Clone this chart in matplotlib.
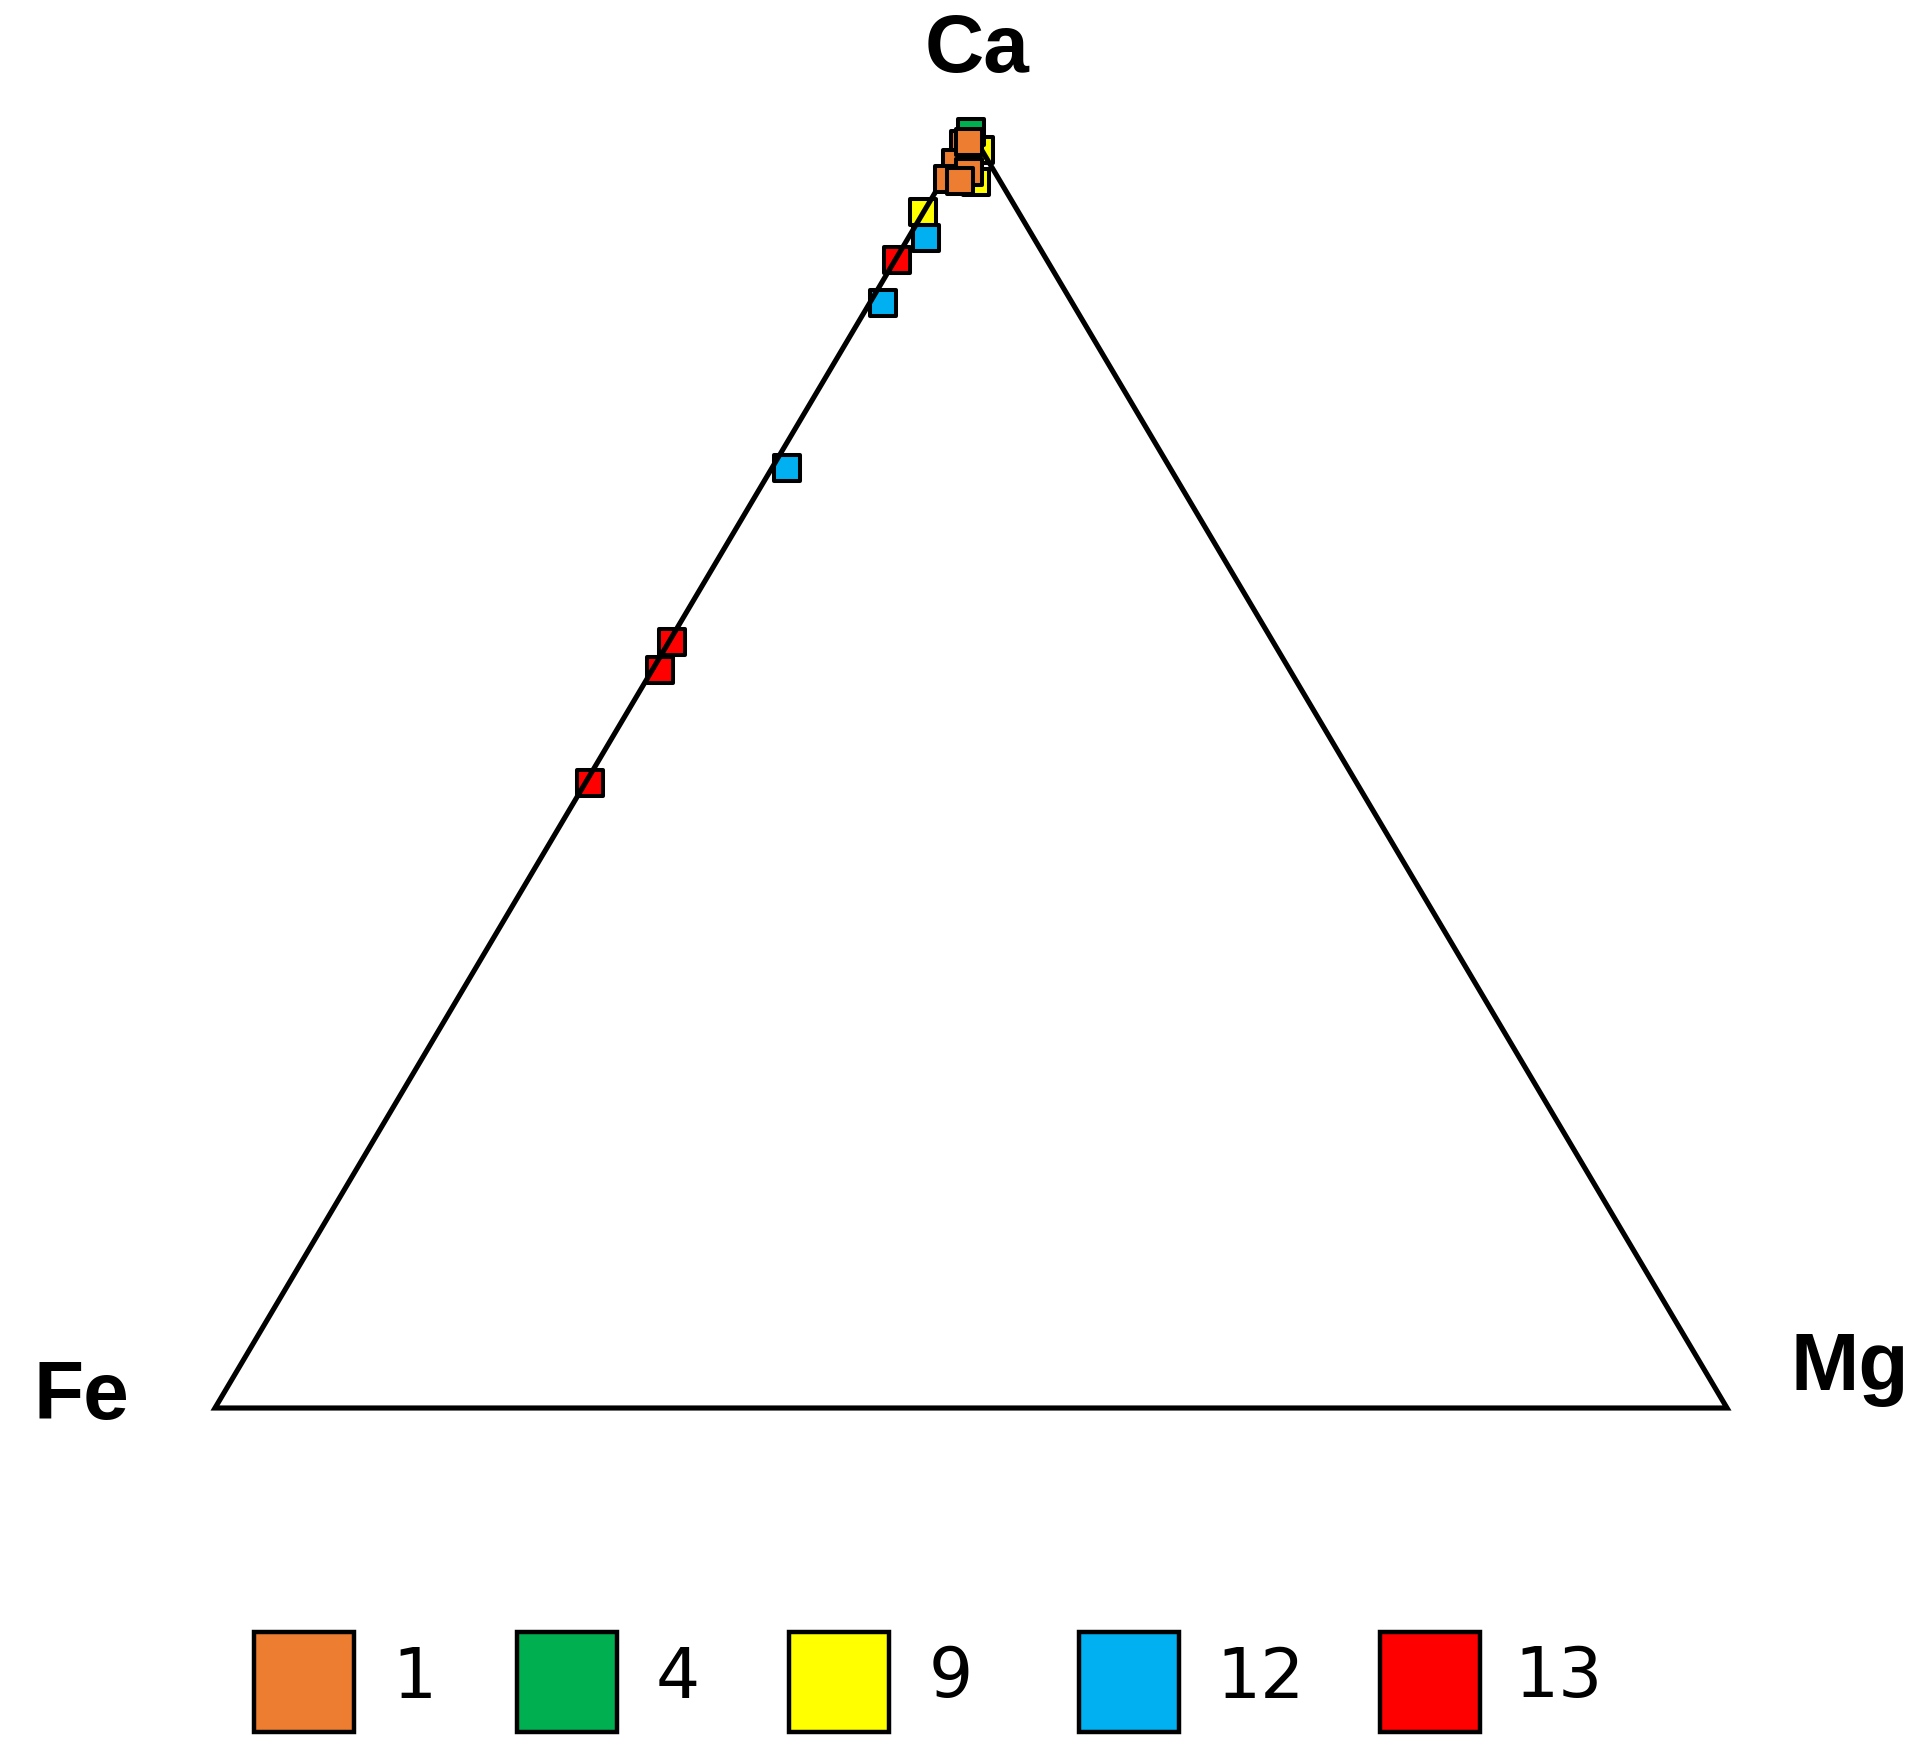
import matplotlib
matplotlib.use("Agg")
import matplotlib.pyplot as plt
from matplotlib.patches import Rectangle, Polygon
import numpy as np

# ---- data: ternary compositions (percent) ----
series_names = ["1", "4", "9", "12", "13"]
series_colors = ["#ED7D31", "#00B050", "#FFFF00", "#00B0F0", "#FF0000"]

# series 1 (orange)
s1_ca = [99.1, 97.6, 96.3, 96.9, 99.2, 96.2]
s1_fe = [0.9, 2.2, 3.4, 1.7, 0.5, 2.6]
s1_mg = [0.0, 0.2, 0.3, 1.4, 0.3, 1.2]
# series 4 (green)
s4_ca = [100.0]
s4_fe = [0.0]
s4_mg = [0.0]
# series 9 (yellow)
s9_ca = [98.6, 96.1, 93.7]
s9_fe = [0.1, 1.6, 6.3]
s9_mg = [1.3, 2.3, 0.0]
# series 12 (blue)
s12_ca = [91.7, 86.6, 73.7]
s12_fe = [7.1, 12.5, 25.3]
s12_mg = [1.2, 0.9, 1.0]
# series 13 (red)
s13_ca = [90.0, 60.0, 57.8, 49.0]
s13_fe = [9.9, 39.8, 41.7, 50.7]
s13_mg = [0.1, 0.2, 0.5, 0.3]

vertex_labels = ["Fe", "Mg", "Ca"]

H = 0.8439  # triangle height relative to base (slightly flattened as in reference)


def tern(ca, fe, mg):
    ca = np.asarray(ca, float); fe = np.asarray(fe, float); mg = np.asarray(mg, float)
    tot = ca + fe + mg
    x = (mg + ca / 2.0) / tot
    y = ca / tot * H
    return x, y


W, Hpx = 1929, 1755
fig = plt.figure(figsize=(W / 100, Hpx / 100), dpi=100)
ax = fig.add_axes([0, 0, 1, 1])
ax.set_xlim(-215 / 1512, (W - 215) / 1512)
ax.set_ylim((1408 - Hpx) / 1512, 1408 / 1512)
ax.axis("off")

# triangle outline (closed)
tx, ty = tern([0, 0, 100], [100, 0, 0], [0, 100, 0])
ax.add_patch(Polygon(np.column_stack([tx, ty]), closed=True, fill=False,
                     edgecolor="black", linewidth=3.7, joinstyle="miter", zorder=5))

ms = 19.0
data = [
    (s1_ca, s1_fe, s1_mg, 7),
    (s4_ca, s4_fe, s4_mg, 6),
    (s9_ca, s9_fe, s9_mg, 2),
    (s12_ca, s12_fe, s12_mg, 3),
    (s13_ca, s13_fe, s13_mg, 3),
]
for (ca, fe, mg, z), col in zip(data, series_colors):
    x, y = tern(ca, fe, mg)
    ax.scatter(x, y, s=ms ** 2, marker="s", facecolor=col, edgecolor="black",
               linewidths=2.9, zorder=z)

# vertex labels
for lab, (px, py) in zip(vertex_labels, [(81, 1419), (1850, 1390), (977, 72)]):
    ax.text((px - 215) / 1512, (1408 - py) / 1512, lab, ha="center", va="baseline",
            fontsize=59, fontweight="bold", family=["Liberation Sans", "DejaVu Sans"])

# legend (manual row of boxes)
box_left = [254, 517, 789, 1079, 1380]
label_cx = [414, 678, 951, 1261, 1559]
for bl, lc, name, col in zip(box_left, label_cx, series_names, series_colors):
    fig.patches.append(Rectangle((bl / W, 1 - 1732 / Hpx), 100 / W, 100 / Hpx,
                                 transform=fig.transFigure, facecolor=col,
                                 edgecolor="black", linewidth=3.2))
    fig.text(lc / W, 1 - 1678 / Hpx, name, ha="center", va="center",
             fontsize=50, family=["DejaVu Sans"])

fig.savefig("out.png", dpi=100, facecolor="white")
